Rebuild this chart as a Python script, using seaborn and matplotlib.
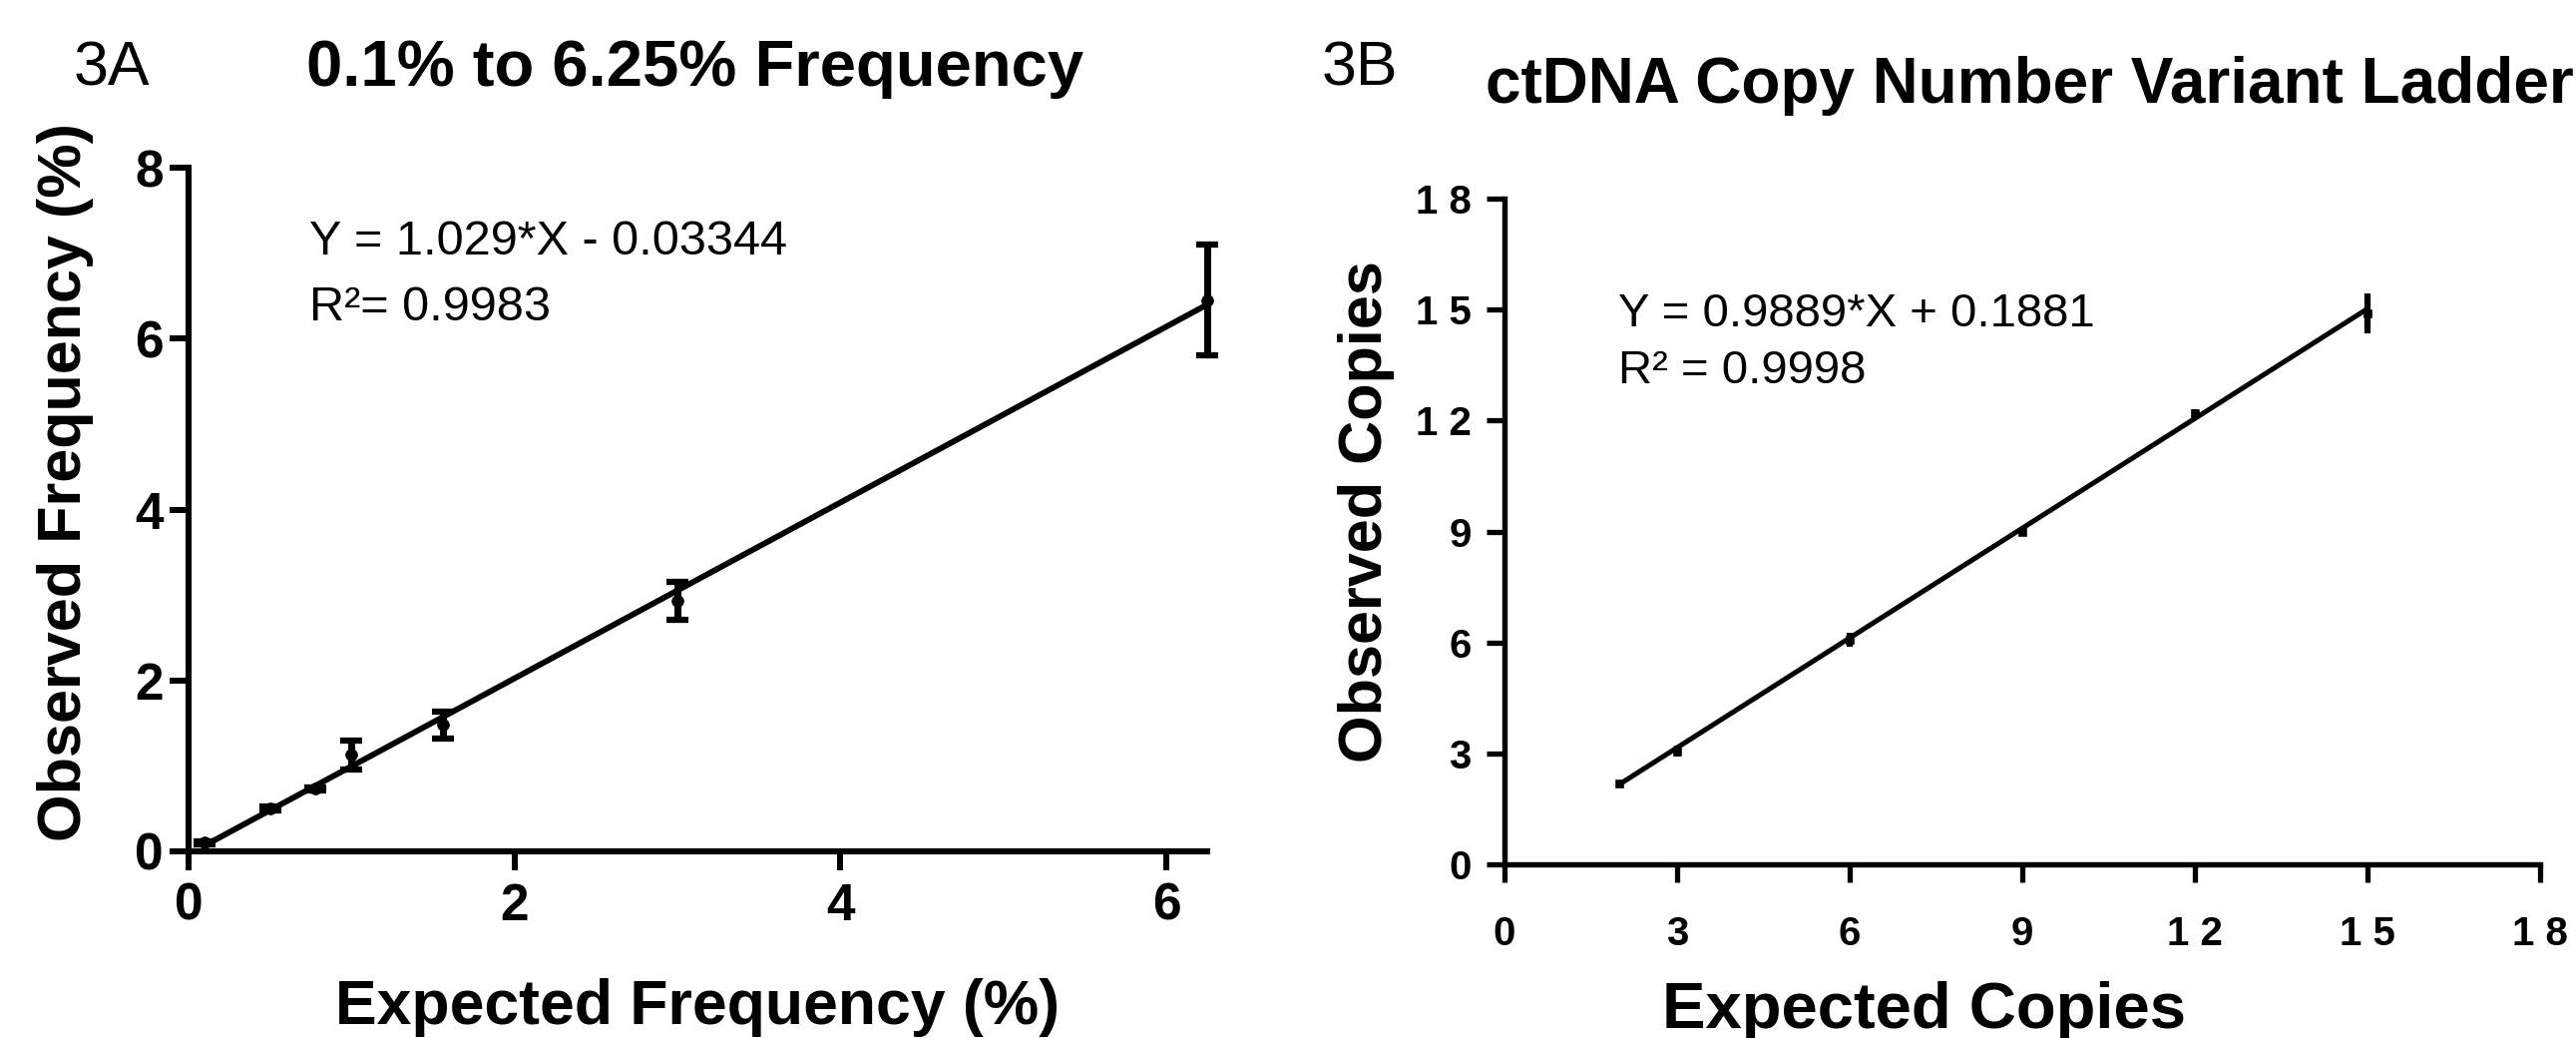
import matplotlib
matplotlib.use("Agg")
import matplotlib.pyplot as plt
import seaborn as sns
import numpy as np
import pandas as pd

# ---------------- data ----------------
# Panel 3A
a_expected = [0.1, 0.5, 0.78, 1.0, 1.56, 3.0, 6.25]
a_observed = [0.1, 0.5, 0.73, 1.13, 1.48, 2.93, 6.45]
a_err = [0.02, 0.02, 0.02, 0.17, 0.16, 0.22, 0.65]
a_slope, a_intercept = 1.029, -0.03344
a_xticks = [0, 2, 4, 6]
a_yticks = [0, 2, 4, 6, 8]

# Panel 3B
b_expected = [2, 3, 6, 9, 12, 15]
b_observed = [2.18, 3.06, 6.07, 9.0, 12.2, 14.9]
b_err = [0.05, 0.15, 0.18, 0.1, 0.1, 0.54]
b_slope, b_intercept = 0.9889, 0.1881
b_ticks = [0, 3, 6, 9, 12, 15, 18]
b_ticklabels = ["0", "3", "6", "9", "1 2", "1 5", "1 8"]

# ---------------- style ----------------
sns.set_style("ticks")
plt.rcParams['font.family'] = ['Liberation Sans', 'DejaVu Sans']
plt.rcParams.update({
    "text.color": "black", "axes.labelcolor": "black",
    "xtick.color": "black", "ytick.color": "black",
    "axes.edgecolor": "black",
})

W, H = 2582, 1040
fig = plt.figure(figsize=(W / 100, H / 100), dpi=100)

def px_axes(l, r, b, t):
    return fig.add_axes([l / W, 1 - b / H, (r - l) / W, (b - t) / H])

axA = px_axes(189, 1210, 853, 168)
axB = px_axes(1508, 2546, 866, 199)

# ---------- Panel A ----------
dfA = pd.DataFrame({"x": a_expected, "y": a_observed})
fitA = pd.DataFrame({"x": [a_expected[0], a_expected[-1]]})
fitA["y"] = a_slope * fitA["x"] + a_intercept
sns.lineplot(data=fitA, x="x", y="y", ax=axA, color="black", lw=4.2,
             solid_capstyle="round", clip_on=False)
eb = axA.errorbar(a_expected, a_observed, yerr=a_err, fmt="none", ecolor="black",
                  elinewidth=5.0, capsize=8, capthick=4.5, clip_on=False)
for c in eb[1]:
    c.set_clip_on(False)
for c in eb[2]:
    c.set_clip_on(False)
sns.scatterplot(data=dfA, x="x", y="y", ax=axA, color="black", s=70,
                edgecolor="black", zorder=5, clip_on=False)
axA.set_xlim(0, 6.25)
axA.set_ylim(0, 8)
axA.set_xticks(a_xticks)
axA.set_yticks(a_yticks)
axA.tick_params(axis="both", length=14, width=4.3, labelsize=37, color="black")
axA.tick_params(axis="x", pad=8)
axA.tick_params(axis="y", pad=4)
for lab in axA.get_xticklabels() + axA.get_yticklabels():
    lab.set_fontweight("bold")
for s in ["left", "bottom"]:
    axA.spines[s].set_linewidth(4.4)
    axA.spines[s].set_color("black")
sns.despine(ax=axA)
axA.set_xlabel("Expected Frequency (%)", fontsize=45, fontweight="bold")
axA.set_ylabel("Observed Frequency (%)", fontsize=44, fontweight="bold")
axA.xaxis.set_label_coords(0.5, -0.185)
axA.yaxis.set_label_coords(-0.093, 0.54)

# ---------- Panel B ----------
dfB = pd.DataFrame({"x": b_expected, "y": b_observed})
fitB = pd.DataFrame({"x": [b_expected[0], b_expected[-1]]})
fitB["y"] = b_slope * fitB["x"] + b_intercept
sns.lineplot(data=fitB, x="x", y="y", ax=axB, color="black", lw=3.6)
axB.errorbar(b_expected, b_observed, yerr=b_err, fmt="none", ecolor="black",
             elinewidth=4.5, capsize=0)
sns.scatterplot(data=dfB, x="x", y="y", ax=axB, color="black", s=30, marker="s",
                edgecolor="black", zorder=5)
axB.set_xlim(0, 18)
axB.set_ylim(0, 18)
axB.set_xticks(b_ticks)
axB.set_xticklabels(b_ticklabels)
axB.set_yticks(b_ticks)
axB.set_yticklabels(b_ticklabels)
axB.tick_params(axis="both", length=13, width=3.8, labelsize=29, color="black")
axB.tick_params(axis="x", pad=24)
axB.tick_params(axis="y", pad=11)
for lab in axB.get_xticklabels() + axB.get_yticklabels():
    lab.set_fontweight("bold")
for s in ["left", "bottom"]:
    axB.spines[s].set_linewidth(3.9)
    axB.spines[s].set_color("black")
sns.despine(ax=axB)
axB.set_xlabel("Expected Copies", fontsize=47, fontweight="bold")
axB.set_ylabel("Observed Copies", fontsize=44, fontweight="bold")
axB.xaxis.set_label_coords(0.405, -0.175)
axB.yaxis.set_label_coords(-0.106, 0.53)

# ---------- text ----------
def ftext(x, y, s, **kw):
    fig.text(x / W, 1 - y / H, s, **kw)

ftext(112, 69, "3A", fontsize=45, ha="center", va="center")
ftext(697, 69, "0.1% to 6.25% Frequency", fontsize=47, fontweight="bold", ha="center", va="center")
ftext(1363, 69, "3B", fontsize=45, ha="center", va="center")
ftext(2034, 86, "ctDNA Copy Number Variant Ladder", fontsize=46, fontweight="bold", ha="center", va="center")

ftext(310, 242, "Y = 1.029*X - 0.03344", fontsize=35, ha="left", va="center")
ftext(310, 308, "R²= 0.9983", fontsize=35, ha="left", va="center")
ftext(1622, 315, "Y = 0.9889*X + 0.1881", fontsize=34, ha="left", va="center")
ftext(1622, 372, "R² = 0.9998", fontsize=34, ha="left", va="center")

fig.savefig("out.png", dpi=100, facecolor="white")
